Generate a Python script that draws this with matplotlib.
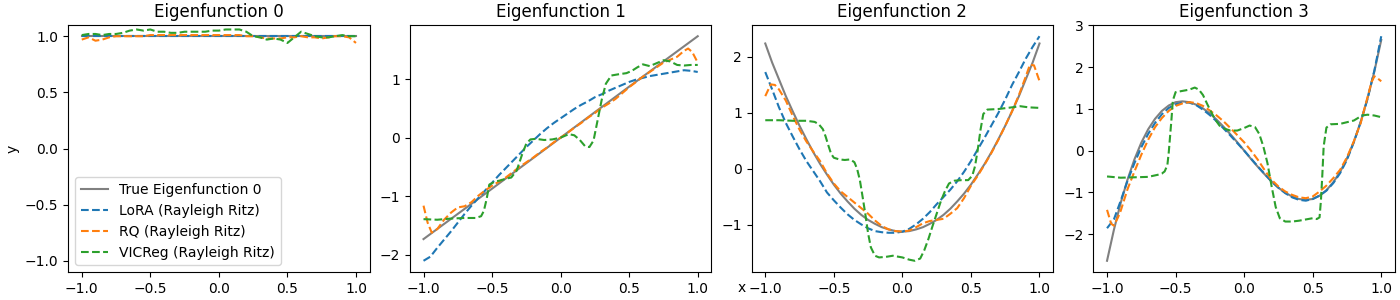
import numpy as np
import matplotlib
matplotlib.use("Agg")
import matplotlib.pyplot as plt

# ---- values ----
x20 = [-1.0, -0.95, -0.9, -0.85, -0.8, -0.75, -0.7, -0.65, -0.6, -0.55, -0.5,
       -0.45, -0.4, -0.35, -0.3, -0.25, -0.2, -0.15, -0.1, -0.05, 0.0,
       0.05, 0.1, 0.15, 0.2, 0.25, 0.3, 0.35, 0.4, 0.45, 0.5,
       0.55, 0.6, 0.65, 0.7, 0.75, 0.8, 0.85, 0.9, 0.95, 1.0]

# Eigenfunction 0
true0 = [1.0] * 41
lora0 = [1.0] * 41
rq0 = [0.97, 0.99, 0.96, 0.97, 0.99, 1.0, 1.0, 1.0, 1.0, 1.0, 1.01,
       1.01, 1.01, 1.01, 1.01, 1.01, 1.01, 1.01, 1.01, 1.01, 1.01,
       1.01, 1.01, 1.01, 1.0, 1.0, 0.99, 0.98, 0.98, 0.98, 0.99,
       0.99, 1.0, 0.99, 0.99, 0.98, 0.99, 1.0, 1.0, 0.99, 0.94]
vic0 = [1.01, 1.02, 1.02, 1.01, 1.02, 1.02, 1.03, 1.05, 1.06, 1.05, 1.06,
        1.04, 1.04, 1.03, 1.03, 1.04, 1.04, 1.04, 1.04, 1.05, 1.05,
        1.06, 1.06, 1.06, 1.04, 1.0, 0.99, 0.97, 0.98, 0.97, 0.94,
        0.99, 1.04, 1.02, 1.0, 0.99, 0.99, 1.0, 1.01, 1.0, 1.0]

# Eigenfunction 1
x_true1 = [-1.0, -0.5, 0.0, 0.5, 1.0]
true1 = [-1.73, -0.87, 0.0, 0.87, 1.73]
lora1 = [-2.1, -2.03, -1.88, -1.74, -1.6, -1.45, -1.3, -1.16, -1.03, -0.9, -0.77,
         -0.64, -0.52, -0.4, -0.28, -0.16, -0.05, 0.06, 0.16, 0.25, 0.33,
         0.41, 0.49, 0.56, 0.62, 0.69, 0.74, 0.8, 0.85, 0.9, 0.95,
         0.99, 1.02, 1.05, 1.07, 1.09, 1.11, 1.13, 1.15, 1.14, 1.12]
x_rq1 = [-1.0, -0.97, -0.94, -0.9, -0.85, -0.8, -0.75, -0.7, -0.65, -0.6, -0.55,
         -0.5, -0.45, -0.4, -0.35, -0.3, -0.25, -0.2, -0.15, -0.1, -0.05, 0.0,
         0.05, 0.1, 0.15, 0.2, 0.25, 0.3, 0.35, 0.4, 0.45, 0.5, 0.55, 0.6,
         0.65, 0.7, 0.75, 0.8, 0.85, 0.9, 0.93, 0.96, 1.0]
rq1 = [-1.16, -1.45, -1.62, -1.56, -1.4, -1.28, -1.19, -1.17, -1.1, -0.99, -0.9,
       -0.82, -0.75, -0.68, -0.59, -0.5, -0.42, -0.34, -0.25, -0.17, -0.08, 0.0,
       0.08, 0.17, 0.25, 0.34, 0.42, 0.51, 0.58, 0.66, 0.76, 0.86, 0.95, 1.04,
       1.12, 1.2, 1.28, 1.33, 1.38, 1.48, 1.52, 1.46, 1.28]
x_vic1 = [-1.0, -0.9, -0.8, -0.7, -0.62, -0.58, -0.56, -0.54, -0.52, -0.48, -0.44,
          -0.4, -0.36, -0.32, -0.28, -0.25, -0.22, -0.18, -0.12, -0.06, 0.0,
          0.06, 0.1, 0.14, 0.18, 0.21, 0.24, 0.27, 0.3, 0.33, 0.37, 0.42,
          0.48, 0.52, 0.56, 0.6, 0.65, 0.7, 0.75, 0.8, 0.85, 0.9, 0.95, 1.0]
vic1 = [-1.39, -1.40, -1.38, -1.37, -1.37, -1.34, -1.25, -1.05, -0.8, -0.75, -0.73,
        -0.7, -0.68, -0.56, -0.28, -0.1, -0.03, -0.02, -0.04, -0.03, 0.0,
        0.06, 0.04, -0.04, -0.15, -0.16, -0.05, 0.3, 0.65, 0.92, 1.06, 1.08,
        1.1, 1.14, 1.2, 1.25, 1.22, 1.27, 1.32, 1.3, 1.24, 1.23, 1.24, 1.24]

# Eigenfunction 2
true2 = [2.24, 1.9, 1.6, 1.3, 1.03, 0.77, 0.53, 0.3, 0.09, -0.1, -0.28,
         -0.44, -0.58, -0.71, -0.82, -0.91, -0.98, -1.04, -1.08, -1.11, -1.12,
         -1.11, -1.08, -1.04, -0.98, -0.91, -0.82, -0.71, -0.58, -0.44, -0.28,
         -0.1, 0.09, 0.3, 0.53, 0.77, 1.03, 1.3, 1.6, 1.9, 2.24]
lora2 = [1.73, 1.42, 1.1, 0.82, 0.58, 0.35, 0.14, -0.04, -0.22, -0.42, -0.56,
         -0.69, -0.81, -0.91, -0.99, -1.06, -1.11, -1.13, -1.14, -1.14, -1.12,
         -1.07, -0.99, -0.89, -0.77, -0.63, -0.5, -0.37, -0.22, -0.05, 0.14,
         0.35, 0.56, 0.78, 1.0, 1.24, 1.5, 1.73, 1.97, 2.18, 2.37]
x_rq2 = [-1.0, -0.96, -0.93, -0.9, -0.85, -0.8, -0.75, -0.7, -0.65, -0.6, -0.55,
         -0.5, -0.45, -0.4, -0.35, -0.3, -0.25, -0.2, -0.15, -0.1, -0.05, 0.0,
         0.05, 0.1, 0.15, 0.2, 0.25, 0.3, 0.35, 0.4, 0.45, 0.5, 0.55, 0.6,
         0.65, 0.7, 0.75, 0.8, 0.85, 0.9, 0.93, 0.96, 1.0]
rq2 = [1.3, 1.51, 1.5, 1.42, 1.22, 0.95, 0.7, 0.49, 0.31, 0.14, -0.08,
       -0.26, -0.4, -0.5, -0.6, -0.7, -0.8, -0.92, -1.02, -1.08, -1.11, -1.12,
       -1.1, -1.04, -0.97, -0.93, -0.91, -0.89, -0.8, -0.7, -0.52, -0.3, -0.12, 0.08,
       0.29, 0.52, 0.77, 1.03, 1.32, 1.65, 1.86, 1.85, 1.57]
x_vic2 = [-1.0, -0.9, -0.8, -0.7, -0.64, -0.61, -0.58, -0.56, -0.54, -0.52, -0.5,
          -0.46, -0.42, -0.38, -0.35, -0.33, -0.31, -0.29, -0.27, -0.25, -0.23,
          -0.2, -0.17, -0.12, -0.07, 0.0, 0.05, 0.09, 0.13, 0.16, 0.19, 0.22,
          0.25, 0.28, 0.31, 0.34, 0.38, 0.43, 0.48, 0.51, 0.53, 0.55, 0.57,
          0.59, 0.62, 0.7, 0.8, 0.86, 0.92, 1.0]
vic2 = [0.87, 0.87, 0.86, 0.86, 0.84, 0.8, 0.71, 0.58, 0.42, 0.27, 0.2,
        0.17, 0.16, 0.17, 0.12, 0.0, -0.2, -0.5, -0.81, -1.15, -1.4,
        -1.55, -1.58, -1.57, -1.55, -1.58, -1.62, -1.64, -1.6, -1.45, -1.25, -1.02,
        -0.8, -0.58, -0.4, -0.26, -0.21, -0.2, -0.2, -0.12, 0.05, 0.35, 0.7,
        0.98, 1.06, 1.07, 1.1, 1.12, 1.1, 1.09]

# Eigenfunction 3
true3 = [-2.64, -1.9, -1.25, -0.69, -0.21, 0.19, 0.51, 0.76, 0.95, 1.08, 1.16,
         1.18, 1.16, 1.1, 1.01, 0.89, 0.74, 0.57, 0.39, 0.2, 0.0,
         -0.2, -0.39, -0.57, -0.74, -0.89, -1.01, -1.1, -1.16, -1.18, -1.16,
         -1.08, -0.95, -0.76, -0.51, -0.19, 0.21, 0.69, 1.25, 1.9, 2.65]
lora3 = [-1.86, -1.65, -1.2, -0.72, -0.3, 0.08, 0.4, 0.66, 0.87, 1.02, 1.11,
         1.15, 1.15, 1.09, 0.98, 0.85, 0.7, 0.53, 0.36, 0.18, 0.0,
         -0.19, -0.38, -0.56, -0.74, -0.89, -1.02, -1.12, -1.18, -1.2, -1.16,
         -1.08, -0.96, -0.78, -0.54, -0.22, 0.2, 0.68, 1.24, 1.92, 2.74]
x_rq3 = [-1.0, -0.97, -0.95, -0.92, -0.9, -0.85, -0.8, -0.75, -0.7, -0.65, -0.6,
         -0.55, -0.5, -0.45, -0.4, -0.35, -0.3, -0.25, -0.2, -0.15, -0.1, -0.05,
         0.0, 0.05, 0.1, 0.15, 0.2, 0.25, 0.3, 0.35, 0.4, 0.45, 0.5, 0.55,
         0.6, 0.65, 0.7, 0.75, 0.8, 0.85, 0.9, 0.93, 0.95, 0.97, 1.0]
rq3 = [-1.42, -1.75, -1.8, -1.6, -1.44, -0.92, -0.5, -0.1, 0.26, 0.56, 0.78,
       0.95, 1.07, 1.13, 1.16, 1.14, 1.07, 0.96, 0.84, 0.7, 0.54, 0.37,
       0.2, 0.0, -0.22, -0.47, -0.7, -0.86, -0.98, -1.06, -1.12, -1.14, -1.1, -0.98,
       -0.84, -0.66, -0.46, -0.16, 0.22, 0.66, 1.28, 1.65, 1.78, 1.74, 1.66]
x_vic3 = [-1.0, -0.9, -0.8, -0.7, -0.63, -0.6, -0.58, -0.56, -0.55, -0.54, -0.53,
          -0.52, -0.5, -0.45, -0.4, -0.36, -0.33, -0.3, -0.27, -0.24, -0.21,
          -0.18, -0.14, -0.1, -0.05, 0.0, 0.04, 0.08, 0.11, 0.14, 0.17, 0.2,
          0.23, 0.26, 0.3, 0.35, 0.4, 0.45, 0.5, 0.53, 0.55, 0.56, 0.57, 0.58,
          0.6, 0.63, 0.7, 0.8, 0.86, 0.9, 0.95, 1.0]
vic3 = [-0.62, -0.65, -0.64, -0.63, -0.58, -0.55, -0.5, -0.35, -0.05, 0.35, 0.75,
        1.2, 1.4, 1.43, 1.46, 1.51, 1.46, 1.33, 1.12, 0.92, 0.74,
        0.6, 0.52, 0.48, 0.48, 0.54, 0.6, 0.56, 0.4, 0.1, -0.3, -0.85,
        -1.35, -1.62, -1.7, -1.7, -1.68, -1.65, -1.62, -1.64, -1.6, -1.2, -0.6, 0.1,
        0.55, 0.63, 0.64, 0.72, 0.84, 0.86, 0.84, 0.8]

panels = [
    (x20, true0, x20, lora0, x20, rq0, x20, vic0),
    (x_true1, true1, x20, lora1, x_rq1, rq1, x_vic1, vic1),
    (x20, true2, x20, lora2, x_rq2, rq2, x_vic2, vic2),
    (x20, true3, x20, lora3, x_rq3, rq3, x_vic3, vic3),
]

fig, axes = plt.subplots(1, 4, figsize=(14, 3))
for i, (ax, p) in enumerate(zip(axes, panels)):
    xt, yt, xl, yl, xr, yr, xv, yv = p
    ax.plot(xt, yt, color="gray", label=f"True Eigenfunction {i}")
    ax.plot(xl, yl, "--", label="LoRA (Rayleigh Ritz)")
    ax.plot(xr, yr, "--", label="RQ (Rayleigh Ritz)")
    ax.plot(xv, yv, "--", label="VICReg (Rayleigh Ritz)")
    ax.set_title(f"Eigenfunction {i}")
axes[0].set_ylim(-1.1, 1.1)
axes[0].set_ylabel("y")
axes[0].legend(loc="lower left")

plt.subplots_adjust(left=0.0486, right=0.9964, bottom=0.0933, top=0.9167, wspace=0.133)
fig.text(0.530, 0.04, "x", ha="center", va="center", fontsize=10)
plt.savefig("out.png", dpi=100)
